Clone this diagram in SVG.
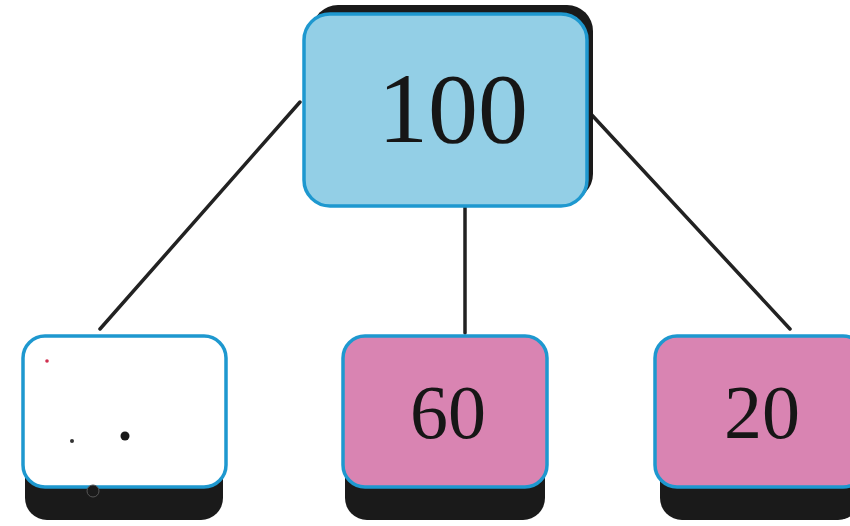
<svg xmlns="http://www.w3.org/2000/svg" width="850" height="526" viewBox="0 0 850 526">
<style>
.shadow{fill:#1a1a1a}
.box{stroke:#1e98cf;stroke-width:3.5}
.blue{fill:#93cfe6}
.pink{fill:#d984b2}
.white{fill:#ffffff}
.lbl{font-family:"Liberation Serif","Times New Roman",serif;fill:#161616;text-anchor:middle}
.conn line{stroke:#222;stroke-width:3.5;stroke-linecap:round}
</style>
<rect width="850" height="526" fill="#ffffff"/>
<g class="conn" id="connectors">
<line x1="300" y1="102" x2="100" y2="329"/>
<line x1="465" y1="205" x2="465" y2="333"/>
<line x1="590" y1="113" x2="790" y2="329"/>
</g>
<g id="node-100">
<rect class="shadow" x="312" y="5" width="281" height="195" rx="26"/>
<rect class="box blue" x="304" y="14" width="283" height="192" rx="26"/>
<text class="lbl" x="453" y="142" font-size="100">100</text>
</g>
<g id="node-blank">
<rect class="shadow" x="25" y="360" width="198" height="160" rx="22"/>
<rect class="box white" x="23" y="336" width="203" height="151" rx="22"/>
<circle cx="125" cy="436" r="4.5" fill="#1a1a1a"/>
<circle cx="72" cy="441" r="2" fill="#333"/>
<circle cx="47" cy="361" r="1.8" fill="#d03050"/>
<circle cx="93" cy="491" r="6" fill="#1a1a1a" stroke="#555" stroke-width="1"/>
</g>
<g id="node-60">
<rect class="shadow" x="345" y="360" width="200" height="160" rx="22"/>
<rect class="box pink" x="343" y="336" width="204" height="151" rx="22"/>
<text class="lbl" x="448" y="438" font-size="76">60</text>
</g>
<g id="node-20">
<rect class="shadow" x="660" y="360" width="200" height="160" rx="22"/>
<rect class="box pink" x="655" y="336" width="210" height="151" rx="22"/>
<text class="lbl" x="762" y="438" font-size="76">20</text>
</g>
</svg>
